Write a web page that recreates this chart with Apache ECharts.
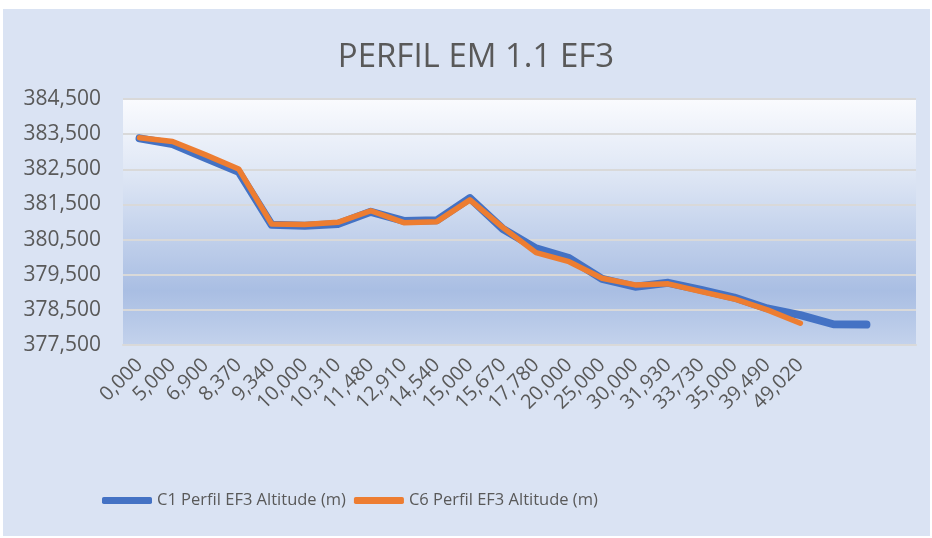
<!DOCTYPE html>
<html>
<head>
<meta charset="utf-8">
<script src="https://cdn.jsdelivr.net/npm/echarts@6/dist/echarts.min.js"></script>
<style>
  html, body {margin: 0; padding: 0; background: #ffffff;}
  #chart {position: absolute; left: 3px; top: 9px; width: 927px; height: 527px; background: #dae3f3;}
</style>
</head>
<body>
<div id="chart"></div>
<script>
// distance along the profile (km), last three slots have no label
const distances = ["0,000", "5,000", "6,900", "8,370", "9,340", "10,000", "10,310", "11,480", "12,910", "14,540",
  "15,000", "15,670", "17,780", "20,000", "25,000", "30,000", "31,930", "33,730", "35,000", "39,490", "49,020", "", "", ""];

const c1Altitude = [383.38, 383.22, 382.82, 382.43, 380.92, 380.89, 380.94, 381.29, 381.03, 381.05,
  381.68, 380.80, 380.25, 379.97, 379.38, 379.16, 379.27, 379.07, 378.85, 378.54, 378.35, 378.09, 378.08];

const c6Altitude = [383.40, 383.29, 382.91, 382.51, 380.94, 380.93, 380.99, 381.32, 380.98, 381.01,
  381.63, 380.84, 380.13, 379.87, 379.40, 379.21, 379.24, 379.02, 378.81, 378.50, 378.12];

const seriesNames = ["C1 Perfil EF3 Altitude (m)", "C6 Perfil EF3 Altitude (m)"];

const font = "'Open Sans', sans-serif";
const textColor = "#595959";
const fmt = (v) => v.toFixed(3).replace(".", ",");

const chart = echarts.init(document.getElementById("chart"));

chart.setOption({
  animation: false,
  title: {
    text: "PERFIL EM 1.1 EF3",
    left: 468,
    top: 27,
    textAlign: "center",
    textStyle: {fontFamily: font, fontSize: 33, fontWeight: "normal", color: textColor},
  },
  legend: {
    left: 94,
    top: 478,
    itemGap: 8,
    itemWidth: 50,
    itemHeight: 7,
    icon: "roundRect",
    textStyle: {fontFamily: font, fontSize: 16.5, color: textColor},
    data: seriesNames,
  },
  grid: {
    left: 120,
    right: 14,
    top: 90,
    bottom: 191,
    show: true,
    borderWidth: 0,
    backgroundColor: new echarts.graphic.LinearGradient(0, 0, 0, 1, [
      {offset: 0, color: "#fafbfe"},
      {offset: 0.3, color: "#dfe7f5"},
      {offset: 0.78, color: "#a9bee3"},
      {offset: 1, color: "#c3d2ec"},
    ]),
  },
  xAxis: {
    type: "category",
    data: distances,
    boundaryGap: true,
    axisLine: {lineStyle: {color: "#d9d9d9", width: 2}},
    axisTick: {show: false},
    axisLabel: {interval: 0, rotate: 45, margin: 17, fontFamily: font, fontSize: 20, color: textColor},
  },
  yAxis: {
    type: "value",
    min: 377.5,
    max: 384.5,
    interval: 1,
    axisLine: {show: false},
    axisTick: {show: false},
    axisLabel: {formatter: fmt, margin: 22, fontFamily: font, fontSize: 21, color: textColor},
    splitLine: {lineStyle: {color: "#d9d9d9", width: 2}},
  },
  series: [
    {
      name: seriesNames[0],
      type: "line",
      data: c1Altitude,
      symbol: "none",
      itemStyle: {color: "#4472c4"},
      lineStyle: {color: "#4472c4", width: 8, cap: "round", join: "round"},
    },
    {
      name: seriesNames[1],
      type: "line",
      data: c6Altitude,
      symbol: "none",
      itemStyle: {color: "#ed7d31"},
      lineStyle: {color: "#ed7d31", width: 5.5, cap: "round", join: "round"},
    },
  ],
});
</script>
</body>
</html>
